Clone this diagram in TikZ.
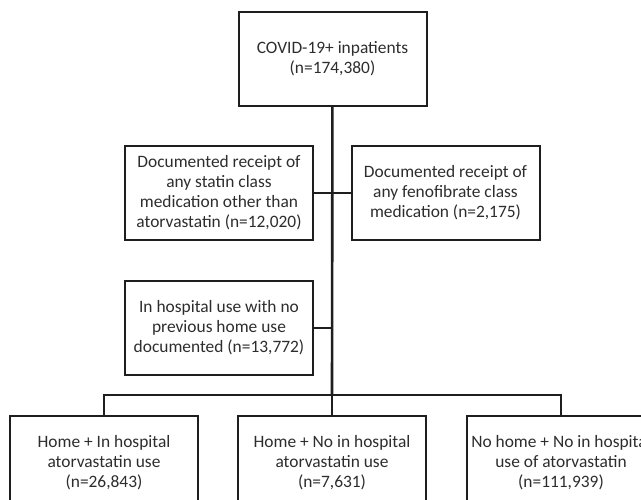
\documentclass[tikz,border=0pt]{standalone}
\usepackage{fontspec}
\setmainfont{Carlito}
\usepackage{xcolor}
\definecolor{tinta}{RGB}{45,45,45}
\definecolor{contorno}{RGB}{30,30,30}
\usetikzlibrary{positioning}

\begin{document}
\begin{tikzpicture}[
    node distance=38pt and 38pt,
    stagebox/.style={
      rectangle, draw=contorno, line width=2pt, fill=white,
      minimum width=188pt, minimum height=94pt,
      font=\fontsize{17.4}{20}\selectfont, text=tinta, align=center,
      inner sep=2pt
    },
    link/.style={line width=1.4pt, color=contorno},
    trunk/.style={line width=2.6pt, color=contorno}
  ]

  \useasboundingbox (0pt,0pt) rectangle (641pt,-500pt);

  % Cohort
  \node[stagebox] (cohort) at (332.5pt,-59pt) {COVID-19+ inpatients\\(n=174,380)};

  % Exclusions
  \node[stagebox, below=of cohort, xshift=-113.5pt] (statin)
    {Documented receipt of\\any statin class\\medication other than\\atorvastatin (n=12,020)};
  \node[stagebox, below=of cohort, xshift=113pt] (feno)
    {Documented receipt of\\any fenofibrate class\\medication (n=2,175)};
  \node[stagebox, below=39pt of statin] (inhosp)
    {In hospital use with no\\previous home use\\documented (n=13,772)};

  % Groups
  \node[stagebox, below=39pt of inhosp, xshift=113pt] (homeno)
    {Home + No in hospital\\atorvastatin use\\(n=7,631)};
  \node[stagebox, left=of homeno]      (homein)
    {Home + In hospital\\atorvastatin use\\(n=26,843)};
  \node[stagebox, right=39pt of homeno] (nohome)
    {No home + No in hospital\\use of atorvastatin\\(n=111,939)};
  \coordinate[above=20pt of homeno.north] (split);

  % Trunk
  \draw[trunk] (cohort) -- (split);

  % Side branches
  \draw[link] (statin.east) -- (statin.east -| cohort.south);
  \draw[link] (feno.west)   -- (feno.west -| cohort.south);
  \draw[link] (inhosp.east) -- (inhosp.east -| cohort.south);

  % Bottom split
  \draw[link] (homein) |- (split) -| (nohome);
  \draw[link] (split) -- (homeno);

\end{tikzpicture}
\end{document}
